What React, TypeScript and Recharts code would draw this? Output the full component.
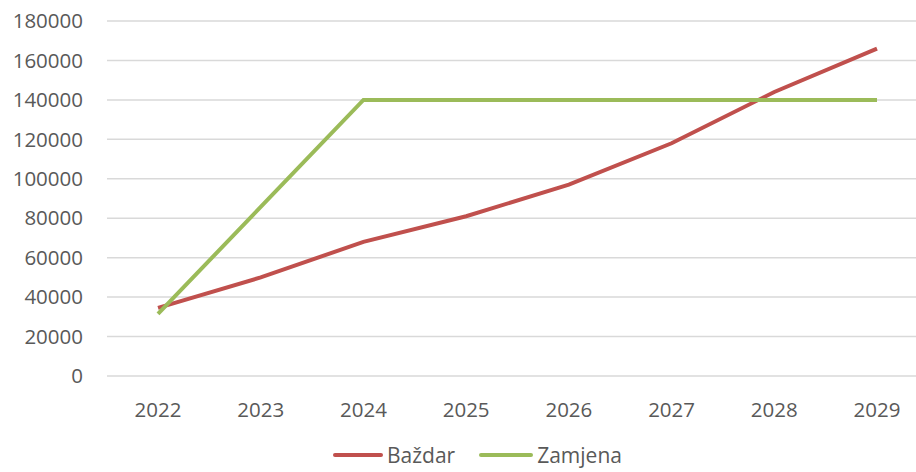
import React from 'react'
import { LineChart, Line, XAxis, YAxis, CartesianGrid, Legend } from 'recharts'

const years = ['2022', '2023', '2024', '2025', '2026', '2027', '2028', '2029']
const bazdar = [34500, 50000, 68000, 81000, 97000, 118000, 144000, 166000]
const zamjena = [31500, 85700, 140000, 140000, 140000, 140000, 140000, 140000]
const yTicks = [0, 20000, 40000, 60000, 80000, 100000, 120000, 140000, 160000, 180000]

const data = years.map((y, i) => ({ year: y, bazdar: bazdar[i], zamjena: zamjena[i] }))

const FONT = '"Open Sans", "Liberation Sans", sans-serif'
const RED = '#c0504d'
const GREEN = '#9bbb59'

function LegendBox() {
  const item = (color: string, label: string, lineW: number, gap: number) => (
    <span style={{ display: 'flex', alignItems: 'center', marginRight: gap }}>
      <span style={{ width: lineW, height: 4, background: color, borderRadius: 2, marginRight: 4 }} />
      <span>{label}</span>
    </span>
  )
  return (
    <div style={{ display: 'flex', fontFamily: FONT, fontSize: 21, color: '#595959', lineHeight: '26px' }}>
      {item(RED, 'Baždar', 50, 24)}
      {item(GREEN, 'Zamjena', 54, 0)}
    </div>
  )
}

export default function App() {
  return (
    <div style={{ position: 'absolute', left: 0, top: 0, width: 916, height: 472, overflow: 'hidden', background: '#fff' }}>
      <LineChart width={928} height={472} data={data} margin={{ top: 21, right: 0, bottom: 0, left: 0 }}>
        <CartesianGrid vertical={false} stroke="#d9d9d9" strokeWidth={1.5} />
        <XAxis
          dataKey="year"
          axisLine={false}
          tickLine={false}
          tickSize={0}
          tickMargin={26}
          height={60}
          padding={{ left: 51, right: 51 }}
          tick={{ fontSize: 20.5, fill: '#595959', fontFamily: FONT }}
        />
        <YAxis
          width={107}
          domain={[0, 180000]}
          ticks={yTicks}
          interval={0}
          axisLine={false}
          tickLine={false}
          tickSize={0}
          tickMargin={24}
          tick={{ fontSize: 20.5, fill: '#595959', fontFamily: FONT }}
        />
        <Legend
          verticalAlign="bottom"
          height={36}
          content={() => <LegendBox />}
          wrapperStyle={{ left: 333, width: 400, bottom: -6 }}
        />
        <Line dataKey="bazdar" name="Baždar" stroke={RED} strokeWidth={4} dot={false} isAnimationActive={false} />
        <Line dataKey="zamjena" name="Zamjena" stroke={GREEN} strokeWidth={4} dot={false} isAnimationActive={false} />
      </LineChart>
    </div>
  )
}
